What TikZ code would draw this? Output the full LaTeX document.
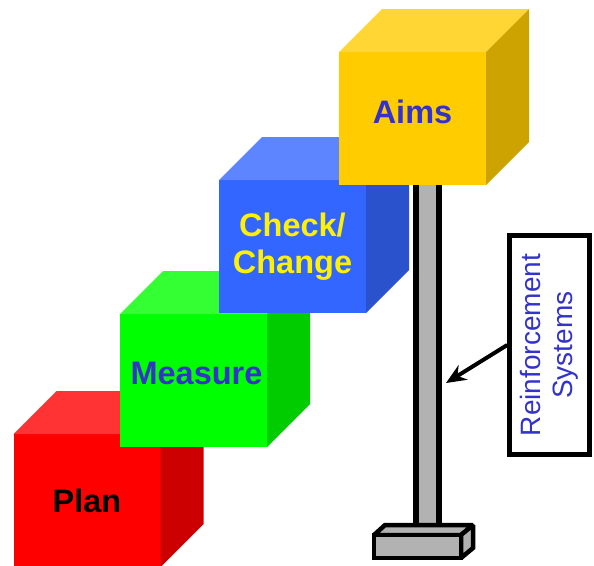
\documentclass[tikz,border=0pt]{standalone}
\usepackage{fontspec}
\setmainfont{Liberation Sans}
\usetikzlibrary{arrows.meta}

\definecolor{planred}{HTML}{FF0000}
\definecolor{measuregreen}{HTML}{00FF00}
\definecolor{checkblue}{HTML}{3366FF}
\definecolor{aimsgold}{HTML}{FFCC00}
\definecolor{labelblue}{HTML}{3333CC}

\begin{document}
\begin{tikzpicture}[x=1pt,y=-1pt,
    front/.style={inner sep=0pt,outer sep=0pt,minimum width=147pt,minimum height=133pt},
    cubetext/.style={font=\fontsize{32.5}{37}\selectfont\bfseries,align=center,inner sep=0pt},
    steel/.style={draw=black,fill=gray!60,line join=miter,miter limit=1.5}]
    \useasboundingbox (0,0) rectangle (594,565);
    % Plan
    \node[front,fill=planred] (plan) at (87,500.5) {};
    \fill[planred!80!white] (plan.north west) -- ++(43,-43) -- ++(147,0) -- (plan.north east) -- cycle;
    \fill[planred!80!black] (plan.north east) -- ++(43,-43) -- ++(0,133) -- (plan.south east) -- cycle;
    \node[cubetext,text=black] (plantext) at (plan.center) {Plan};
    % Measure
    \node[front,fill=measuregreen] (measure) at (193.5,380.5) {};
    \fill[measuregreen!80!white] (measure.north west) -- ++(43,-43) -- ++(147,0) -- (measure.north east) -- cycle;
    \fill[measuregreen!80!black] (measure.north east) -- ++(43,-43) -- ++(0,133) -- (measure.south east) -- cycle;
    \node[cubetext,text=labelblue] (measuretext) at ([xshift=3pt,yshift=7pt]measure.center) {Measure};
    % Check/Change
    \node[front,fill=checkblue] (check) at (292.5,246.5) {};
    \fill[checkblue!80!white] (check.north west) -- ++(43,-43) -- ++(147,0) -- (check.north east) -- cycle;
    \fill[checkblue!80!black] (check.north east) -- ++(43,-43) -- ++(0,133) -- (check.south east) -- cycle;
    \node[cubetext,text=yellow] (checktext) at (check.center) {Check/\\Change};
    % pole under the top cube
    \node[steel,line width=5.5pt,inner sep=0pt,minimum width=23pt,minimum height=348pt] (pole) at (427.5,354) {};
    % Aims
    \node[front,fill=aimsgold] (aims) at (412.5,118.5) {};
    \fill[aimsgold!80!white] (aims.north west) -- ++(43,-43) -- ++(147,0) -- (aims.north east) -- cycle;
    \fill[aimsgold!80!black] (aims.north east) -- ++(43,-43) -- ++(0,133) -- (aims.south east) -- cycle;
    \node[cubetext,text=labelblue] (aimstext) at ([yshift=7pt]aims.center) {Aims};
    % foot of the pole
    \begin{scope}[line width=4.5pt]
      \filldraw[steel] (374,535) -- (385,525) -- (473,525) -- (461,535) -- cycle;
      \filldraw[steel] (461,535) -- (473,525) -- (473,548) -- (461,558) -- cycle;
      \filldraw[steel] (374,535) rectangle (461,558);
    \end{scope}
    % label and arrow
    \node[draw=black,line width=4.5pt,fill=white,rotate=90,inner sep=0pt,
          minimum width=219pt,minimum height=80pt,text=labelblue,align=center,
          font=\fontsize{28}{32}\selectfont] (reinforce) at (549.5,345) {Reinforcement\\Systems};
    \coordinate (poletip) at (446,383);
    \draw[line width=4pt,-{Stealth[length=20pt,width=17pt]}] (reinforce.north) -- (poletip);
\end{tikzpicture}
\end{document}
